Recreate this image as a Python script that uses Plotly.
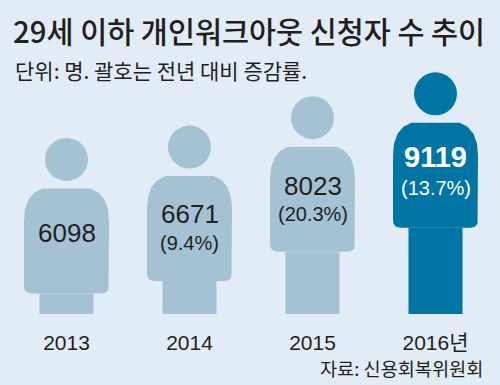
import plotly.graph_objects as go

# --- data ---
categories = ["2013", "2014", "2015", "2016년"]
applicants = [6098, 6671, 8023, 9119]
growth = ["", "(9.4%)", "(20.3%)", "(13.7%)"]

# --- scale: the figures are a truncated pictogram ---
AXIS_FLOOR = 5153
PX_PER_PERSON = 0.02172
PX_PER_CATEGORY = 123
LEFT_PX = 66.5
W, H = 500, 385
PLOT_TOP, PLOT_BOTTOM = 50, 314

BG = "#E2ECF6"
LIGHT = "#A5C2D5"
DARK = "#0075A4"
INK = "#231F20"
LATIN = "Liberation Sans, Noto Sans CJK KR, sans-serif"
CJK = "Noto Sans CJK KR, sans-serif"

colors = [LIGHT, LIGHT, LIGHT, DARK]
n = len(categories)


def px_x(p):
    return p / PX_PER_CATEGORY


def px_y(p):
    return p / PX_PER_PERSON


# body outline in pixels, relative to the top centre of the leg
body_px = [
    (-27, 0), (-35, 0), (-39.5, 1), (-42, 4), (-42.5, 9),
    (-42.5, 72), (-41.5, 84), (-38, 94), (-32, 101), (-24, 105),
    (24, 105), (32, 101), (38, 94), (41.5, 84), (42.5, 72),
    (42.5, 9), (42, 4), (39.5, 1), (35, 0), (27, 0),
]

fig = go.Figure()

# legs
fig.add_trace(go.Bar(
    x=list(range(n)),
    y=[v - AXIS_FLOOR for v in applicants],
    base=AXIS_FLOOR,
    width=54 / PX_PER_CATEGORY,
    marker=dict(color=colors, line=dict(width=0)),
    hoverinfo="skip",
))

# bodies
for i, v in enumerate(applicants):
    fig.add_trace(go.Scatter(
        x=[i + px_x(a) for a, b in body_px],
        y=[v + px_y(b) for a, b in body_px],
        mode="lines",
        fill="toself",
        fillcolor=colors[i],
        line=dict(width=0, color=colors[i]),
        hoverinfo="skip",
    ))

# heads
fig.add_trace(go.Scatter(
    x=list(range(n)),
    y=[v + px_y(134) for v in applicants],
    mode="markers",
    marker=dict(size=43, color=colors, line=dict(width=0)),
    hoverinfo="skip",
))

annotations = []
value_shift = [60, 67, 66, 71]
growth_shift = [0, 38, 38, 40]
for i, v in enumerate(applicants):
    last = i == n - 1
    annotations.append(dict(
        x=i, y=v, xref="x", yref="y", yshift=value_shift[i],
        text=f"<b>{v}</b>" if last else str(v), showarrow=False,
        font=dict(family=LATIN, size=29 if last else 26, color="white" if last else INK),
    ))
    if growth[i]:
        annotations.append(dict(
            x=i, y=v, xref="x", yref="y", yshift=growth_shift[i],
            text=growth[i], showarrow=False,
            font=dict(family=LATIN, size=20, color="white" if last else INK),
        ))

plot_h = PLOT_BOTTOM - PLOT_TOP


def paper_y(p):
    return (PLOT_BOTTOM - p) / plot_h


annotations.append(dict(
    x=13 / W, y=paper_y(70), xref="paper", yref="paper", xanchor="left", yanchor="middle",
    text="단위: 명. 괄호는 전년 대비 증감률.", showarrow=False,
    font=dict(family=CJK, size=21, color=INK),
))
annotations.append(dict(
    x=485 / W, y=paper_y(367), xref="paper", yref="paper", xanchor="right", yanchor="middle",
    text="자료: 신용회복위원회", showarrow=False,
    font=dict(family=CJK, size=18.6, color=INK),
))

fig.update_layout(
    width=W, height=H, autosize=False,
    paper_bgcolor=BG, plot_bgcolor=BG,
    margin=dict(l=0, r=0, t=PLOT_TOP, b=H - PLOT_BOTTOM, pad=0),
    showlegend=False,
    title=dict(
        text="29세 이하 개인워크아웃 신청자 수 추이",
        x=13 / W, xref="paper", xanchor="left",
        y=1 - 33 / H, yref="container", yanchor="middle",
        font=dict(family=CJK, size=29.4, weight=500, color=INK),
    ),
    xaxis=dict(
        range=[-LEFT_PX / PX_PER_CATEGORY, (W - LEFT_PX) / PX_PER_CATEGORY],
        tickmode="array", tickvals=list(range(n)), ticktext=categories,
        tickfont=dict(family=LATIN, size=21, color=INK),
        ticks="", ticklabelstandoff=14,
        showgrid=False, zeroline=False, showline=False, fixedrange=True,
    ),
    yaxis=dict(
        range=[AXIS_FLOOR, AXIS_FLOOR + plot_h / PX_PER_PERSON],
        visible=False, showgrid=False, zeroline=False, fixedrange=True,
    ),
    annotations=annotations,
)

fig.write_html(
    "out.html",
    config=dict(displayModeBar=False),
    post_script="document.body.style.margin='0';document.documentElement.style.background='" + BG + "';",
)
